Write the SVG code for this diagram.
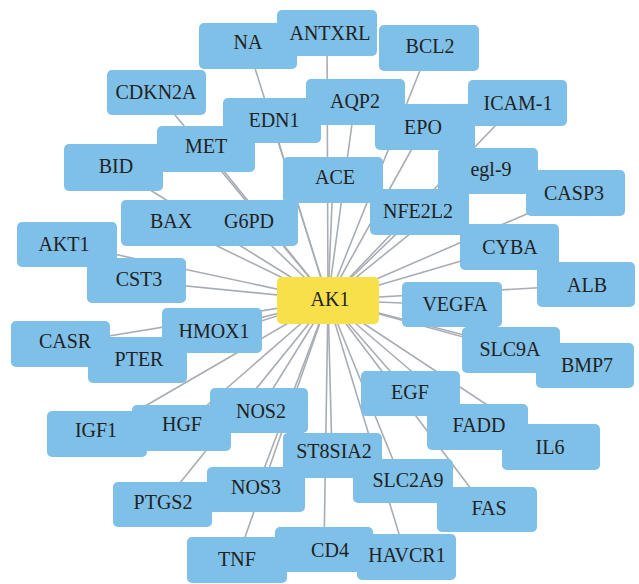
<svg xmlns="http://www.w3.org/2000/svg" width="639" height="584" viewBox="0 0 639 584" font-family="Liberation Serif, DejaVu Serif, serif">
<style>
.e line{stroke:#A8ADB4;stroke-width:1.6}
.n rect{fill:#7EC0E8}
.hub rect{fill:#F8E04B}
.n text{font-size:20px;fill:#222;text-anchor:middle}
</style>
<rect width="639" height="584" fill="#fff"/>
<g id="edges" class="e">
<line x1="328" y1="300" x2="248" y2="46"/>
<line x1="328" y1="300" x2="327" y2="33"/>
<line x1="328" y1="300" x2="429" y2="48"/>
<line x1="328" y1="300" x2="156" y2="92"/>
<line x1="328" y1="300" x2="272" y2="121"/>
<line x1="328" y1="300" x2="355" y2="102"/>
<line x1="328" y1="300" x2="517" y2="103"/>
<line x1="328" y1="300" x2="206" y2="149"/>
<line x1="328" y1="300" x2="424" y2="127"/>
<line x1="328" y1="300" x2="113" y2="167"/>
<line x1="328" y1="300" x2="488" y2="171"/>
<line x1="328" y1="300" x2="333" y2="180"/>
<line x1="328" y1="300" x2="575" y2="193"/>
<line x1="328" y1="300" x2="419" y2="212"/>
<line x1="328" y1="300" x2="170" y2="223"/>
<line x1="328" y1="300" x2="248" y2="223"/>
<line x1="328" y1="300" x2="67" y2="244"/>
<line x1="328" y1="300" x2="509" y2="247"/>
<line x1="328" y1="300" x2="136" y2="281"/>
<line x1="328" y1="300" x2="586" y2="285"/>
<line x1="328" y1="300" x2="451" y2="305"/>
<line x1="328" y1="300" x2="211" y2="331"/>
<line x1="328" y1="300" x2="60" y2="344"/>
<line x1="328" y1="300" x2="137" y2="360"/>
<line x1="328" y1="300" x2="511" y2="350"/>
<line x1="328" y1="300" x2="585" y2="366"/>
<line x1="328" y1="300" x2="410" y2="394"/>
<line x1="328" y1="300" x2="97" y2="434"/>
<line x1="328" y1="300" x2="181" y2="428"/>
<line x1="328" y1="300" x2="259" y2="411"/>
<line x1="328" y1="300" x2="477" y2="427"/>
<line x1="328" y1="300" x2="551" y2="447"/>
<line x1="328" y1="300" x2="332" y2="456"/>
<line x1="328" y1="300" x2="402" y2="482"/>
<line x1="328" y1="300" x2="162" y2="505"/>
<line x1="328" y1="300" x2="256" y2="490"/>
<line x1="328" y1="300" x2="487" y2="510"/>
<line x1="328" y1="300" x2="237" y2="560"/>
<line x1="328" y1="300" x2="324" y2="550"/>
<line x1="328" y1="300" x2="406" y2="557"/>
</g>
<g id="node-NA" class="n"><rect x="199" y="23" width="98" height="46" rx="5"/><text x="248" y="49">NA</text></g>
<g id="node-ANTXRL" class="n"><rect x="277" y="10" width="100" height="46" rx="5"/><text x="330" y="40">ANTXRL</text></g>
<g id="node-BCL2" class="n"><rect x="379" y="25" width="100" height="46" rx="5"/><text x="430" y="53">BCL2</text></g>
<g id="node-CDKN2A" class="n"><rect x="107" y="70" width="99" height="45" rx="5"/><text x="156" y="99">CDKN2A</text></g>
<g id="node-EDN1" class="n"><rect x="223" y="98" width="98" height="45" rx="5"/><text x="274" y="127">EDN1</text></g>
<g id="node-EPO" class="n"><rect x="375" y="104" width="100" height="46" rx="5"/><text x="423" y="134">EPO</text></g>
<g id="node-AQP2" class="n"><rect x="306" y="79" width="99" height="46" rx="5"/><text x="355" y="108">AQP2</text></g>
<g id="node-ICAM-1" class="n"><rect x="468" y="80" width="99" height="46" rx="5"/><text x="518" y="110">ICAM-1</text></g>
<g id="node-MET" class="n"><rect x="157" y="126" width="98" height="46" rx="5"/><text x="206" y="153">MET</text></g>
<g id="node-BID" class="n"><rect x="64" y="144" width="99" height="47" rx="5"/><text x="116" y="173">BID</text></g>
<g id="node-egl-9" class="n"><rect x="438" y="148" width="100" height="46" rx="5"/><text x="491" y="176">egl-9</text></g>
<g id="node-ACE" class="n"><rect x="283" y="157" width="100" height="46" rx="5"/><text x="335" y="184">ACE</text></g>
<g id="node-CASP3" class="n"><rect x="526" y="170" width="99" height="46" rx="5"/><text x="574" y="200">CASP3</text></g>
<g id="node-NFE2L2" class="n"><rect x="370" y="189" width="99" height="46" rx="5"/><text x="418" y="218">NFE2L2</text></g>
<g id="node-BAX" class="n"><rect x="121" y="200" width="99" height="46" rx="5"/><text x="171" y="228">BAX</text></g>
<g id="node-G6PD" class="n"><rect x="199" y="200" width="99" height="46" rx="5"/><text x="249" y="228">G6PD</text></g>
<g id="node-AKT1" class="n"><rect x="17" y="222" width="100" height="45" rx="5"/><text x="64" y="251">AKT1</text></g>
<g id="node-CYBA" class="n"><rect x="460" y="224" width="99" height="46" rx="5"/><text x="510" y="254">CYBA</text></g>
<g id="node-CST3" class="n"><rect x="87" y="258" width="99" height="45" rx="5"/><text x="139" y="286">CST3</text></g>
<g id="node-ALB" class="n"><rect x="537" y="262" width="98" height="45" rx="5"/><text x="587" y="292">ALB</text></g>
<g id="node-AK1" class="n hub"><rect x="277" y="277" width="102" height="47" rx="5"/><text x="330" y="306">AK1</text></g>
<g id="node-VEGFA" class="n"><rect x="402" y="282" width="100" height="45" rx="5"/><text x="455" y="311">VEGFA</text></g>
<g id="node-HMOX1" class="n"><rect x="162" y="308" width="100" height="45" rx="5"/><text x="214" y="338">HMOX1</text></g>
<g id="node-PTER" class="n"><rect x="88" y="337" width="99" height="46" rx="5"/><text x="139" y="366">PTER</text></g>
<g id="node-CASR" class="n"><rect x="11" y="321" width="99" height="46" rx="5"/><text x="65" y="348">CASR</text></g>
<g id="node-BMP7" class="n"><rect x="536" y="343" width="98" height="45" rx="5"/><text x="587" y="372">BMP7</text></g>
<g id="node-SLC9A" class="n"><rect x="462" y="327" width="98" height="46" rx="5"/><text x="510" y="356">SLC9A</text></g>
<g id="node-EGF" class="n"><rect x="361" y="371" width="99" height="45" rx="5"/><text x="410" y="399">EGF</text></g>
<g id="node-IGF1" class="n"><rect x="47" y="411" width="100" height="46" rx="5"/><text x="96" y="437">IGF1</text></g>
<g id="node-HGF" class="n"><rect x="132" y="405" width="99" height="46" rx="5"/><text x="182" y="431">HGF</text></g>
<g id="node-NOS2" class="n"><rect x="210" y="388" width="98" height="45" rx="5"/><text x="261" y="418">NOS2</text></g>
<g id="node-IL6" class="n"><rect x="502" y="424" width="98" height="46" rx="5"/><text x="550" y="454">IL6</text></g>
<g id="node-FADD" class="n"><rect x="427" y="404" width="101" height="46" rx="5"/><text x="479" y="432">FADD</text></g>
<g id="node-ST8SIA2" class="n"><rect x="283" y="433" width="99" height="45" rx="5"/><text x="334" y="458">ST8SIA2</text></g>
<g id="node-SLC2A9" class="n"><rect x="353" y="459" width="100" height="44" rx="5"/><text x="408" y="487">SLC2A9</text></g>
<g id="node-PTGS2" class="n"><rect x="113" y="482" width="99" height="45" rx="5"/><text x="163" y="509">PTGS2</text></g>
<g id="node-NOS3" class="n"><rect x="207" y="467" width="98" height="45" rx="5"/><text x="256" y="494">NOS3</text></g>
<g id="node-FAS" class="n"><rect x="437" y="487" width="100" height="45" rx="5"/><text x="489" y="515">FAS</text></g>
<g id="node-TNF" class="n"><rect x="187" y="537" width="100" height="46" rx="5"/><text x="237" y="566">TNF</text></g>
<g id="node-CD4" class="n"><rect x="275" y="527" width="98" height="45" rx="5"/><text x="330" y="557">CD4</text></g>
<g id="node-HAVCR1" class="n"><rect x="357" y="534" width="99" height="46" rx="5"/><text x="407" y="562">HAVCR1</text></g>
</svg>
